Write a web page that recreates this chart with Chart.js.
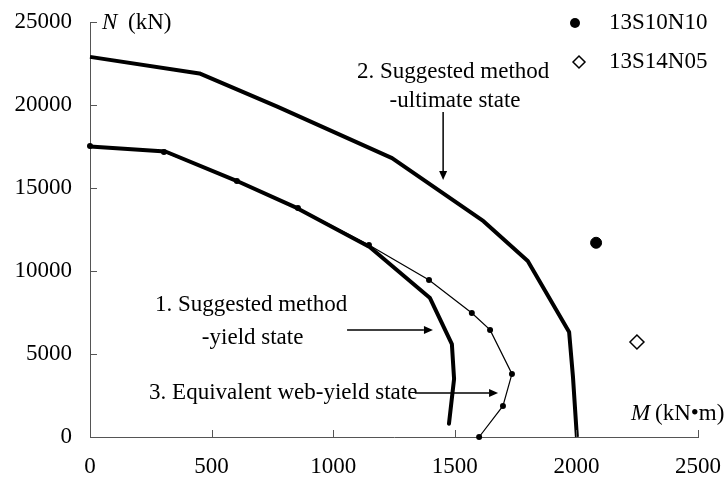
<!DOCTYPE html>
<html>
<head>
<meta charset="utf-8">
<script src="https://cdn.jsdelivr.net/npm/chart.js@4/dist/chart.umd.min.js"></script>
<style>
  html, body { margin: 0; padding: 0; background: #fff; }
  #wrap { width: 724px; height: 488px; }
</style>
</head>
<body>
<div id="wrap"><canvas id="c" width="724" height="488"></canvas></div>
<script>
// Axis tick values
const momentTicks = [0, 500, 1000, 1500, 2000, 2500];
const axialTicks = [0, 5000, 10000, 15000, 20000, 25000];

// 1. Suggested method - yield state
const yieldM = [0, 310, 600, 850, 1150, 1398, 1488, 1497, 1476];
const yieldN = [17500, 17200, 15450, 13800, 11450, 8370, 5600, 3500, 800];

// 2. Suggested method - ultimate state
const ultM = [0, 450, 770, 1242, 1618, 1800, 1970, 1986, 2002];
const ultN = [22900, 21900, 19900, 16800, 13000, 10600, 6330, 3600, 0];

// 3. Equivalent web-yield state
const webM = [0, 304, 604, 855, 1147, 1394, 1570, 1645, 1735, 1698, 1600];
const webN = [17530, 17170, 15420, 13800, 11570, 9460, 7470, 6450, 3800, 1870, 0];

// Test specimens
const specimenNames = ['13S10N10', '13S14N05'];
const specimenM = [2081, 2249];
const specimenN = [11700, 5720];

const FONT = '"Liberation Serif", "Times New Roman", serif';
const FS = 23;
const AXIS = '#555';

const pts = (xs, ys) => xs.map((x, i) => ({ x: x, y: ys[i] }));

// Labels with arrows, anchored in data units (M, N)
const notes = [
  { text: '2. Suggested method', m: 1098, n: 21990 },
  { text: '-ultimate state', m: 1232, n: 20240 },
  { text: '1. Suggested method', m: 267, n: 7950 },
  { text: '-yield state', m: 460, n: 5960 },
  { text: '3. Equivalent web-yield state', m: 243, n: 2650 }
];
const arrows = [
  { m0: 1452, n0: 19580, m1: 1452, n1: 15480 },
  { m0: 1057, n0: 6450, m1: 1410, n1: 6450 },
  { m0: 1336, n0: 2650, m1: 1678, n1: 2650 }
];

function arrow(ctx, x0, y0, x1, y1) {
  const a = Math.atan2(y1 - y0, x1 - x0);
  const L = 9, W = 4;
  const bx = x1 - L * Math.cos(a), by = y1 - L * Math.sin(a);
  ctx.beginPath();
  ctx.moveTo(x0, y0);
  ctx.lineTo(bx, by);
  ctx.stroke();
  ctx.beginPath();
  ctx.moveTo(x1, y1);
  ctx.lineTo(bx + W * Math.sin(a), by - W * Math.cos(a));
  ctx.lineTo(bx - W * Math.sin(a), by + W * Math.cos(a));
  ctx.closePath();
  ctx.fill();
}

// keep the plot frame fixed regardless of tick label overhang
function fixBox(size, key) {
  return s => {
    s[key] = size;
    s.paddingLeft = 0; s.paddingRight = 0; s.paddingTop = 0; s.paddingBottom = 0;
  };
}

const decorations = {
  id: 'decorations',
  afterDraw(chart) {
    const ctx = chart.ctx;
    const xs = chart.scales.x, ys = chart.scales.y;
    const area = chart.chartArea;
    ctx.save();

    // inward tick marks
    ctx.strokeStyle = AXIS;
    ctx.lineWidth = 1;
    ctx.beginPath();
    axialTicks.forEach(v => {
      const p = Math.round(ys.getPixelForValue(v)) + 0.5;
      ctx.moveTo(area.left, p);
      ctx.lineTo(area.left + 7, p);
    });
    momentTicks.forEach(v => {
      const p = Math.round(xs.getPixelForValue(v)) + 0.5;
      ctx.moveTo(p, area.bottom);
      ctx.lineTo(p, area.bottom - 7);
    });
    ctx.stroke();

    // notes and arrows
    ctx.fillStyle = '#000';
    ctx.strokeStyle = '#000';
    ctx.lineWidth = 1.5;
    ctx.font = FS + 'px ' + FONT;
    ctx.textBaseline = 'middle';
    ctx.textAlign = 'left';
    notes.forEach(t => {
      ctx.fillText(t.text, xs.getPixelForValue(t.m), ys.getPixelForValue(t.n));
    });
    arrows.forEach(a => {
      arrow(ctx, xs.getPixelForValue(a.m0), ys.getPixelForValue(a.n0),
                 xs.getPixelForValue(a.m1), ys.getPixelForValue(a.n1));
    });

    // axis titles
    const italic = 'italic ' + FS + 'px ' + FONT;
    const upright = FS + 'px ' + FONT;
    let ty = area.top + 1;
    ctx.font = italic;
    ctx.fillText('N', area.left + 12, ty);
    ctx.font = upright;
    ctx.fillText('(kN)', area.left + 38, ty);
    let tx = area.right - 67;
    ty = area.bottom - 23;
    ctx.font = italic;
    ctx.fillText('M', tx, ty);
    ctx.font = upright;
    ctx.fillText('(kN\u2022m)', tx + 24, ty);

    // legend
    const lx = area.right - 123;
    const rows = [area.top + 1, area.top + 40];
    ctx.font = upright;
    ctx.fillText(specimenNames[0], lx + 34, rows[0]);
    ctx.fillText(specimenNames[1], lx + 34, rows[1]);
    ctx.beginPath();
    ctx.arc(lx, rows[0], 5, 0, Math.PI * 2);
    ctx.fill();
    ctx.beginPath();
    const r = 6, cx = lx + 4, cy = rows[1];
    ctx.moveTo(cx - r, cy); ctx.lineTo(cx, cy - r); ctx.lineTo(cx + r, cy); ctx.lineTo(cx, cy + r);
    ctx.closePath();
    ctx.fillStyle = '#fff';
    ctx.fill();
    ctx.lineWidth = 1.5;
    ctx.stroke();

    ctx.restore();
  }
};

new Chart(document.getElementById('c'), {
  type: 'scatter',
  data: {
    datasets: [
      {
        label: '3. Equivalent web-yield state',
        data: pts(webM, webN),
        showLine: true,
        borderColor: '#000',
        borderWidth: 1.2,
        backgroundColor: '#000',
        pointRadius: 3,
        pointBorderWidth: 0,
        clip: false
      },
      {
        label: '1. Suggested method - yield state',
        data: pts(yieldM, yieldN),
        showLine: true,
        borderColor: '#000',
        borderWidth: 4,
        borderJoinStyle: 'round',
        borderCapStyle: 'round',
        pointRadius: 0,
        clip: false
      },
      {
        label: '2. Suggested method - ultimate state',
        data: pts(ultM, ultN),
        showLine: true,
        borderColor: '#000',
        borderWidth: 4,
        borderJoinStyle: 'round',
        pointRadius: 0,
        clip: false
      },
      {
        label: specimenNames[0],
        data: [{ x: specimenM[0], y: specimenN[0] }],
        pointStyle: 'circle',
        pointRadius: 5.5,
        backgroundColor: '#000',
        borderColor: '#000',
        clip: false
      },
      {
        label: specimenNames[1],
        data: [{ x: specimenM[1], y: specimenN[1] }],
        pointStyle: 'rectRot',
        pointRadius: 7,
        backgroundColor: '#fff',
        borderColor: '#000',
        borderWidth: 1.5,
        clip: false
      }
    ]
  },
  options: {
    responsive: false,
    animation: false,
    devicePixelRatio: 1,
    layout: { padding: { top: 22, right: 26, left: 0, bottom: 0 } },
    plugins: { legend: { display: false }, tooltip: { enabled: false } },
    scales: {
      x: {
        type: 'linear',
        min: 0,
        max: 2500,
        afterBuildTicks: s => { s.ticks = momentTicks.map(v => ({ value: v })); },
        afterFit: fixBox(51, 'height'),
        grid: { display: false, drawTicks: false },
        border: { display: true, color: AXIS, width: 1 },
        ticks: {
          padding: 16,
          color: '#000',
          maxRotation: 0,
          autoSkip: false,
          font: { family: FONT, size: FS },
          callback: v => String(v)
        }
      },
      y: {
        type: 'linear',
        min: 0,
        max: 25000,
        afterBuildTicks: s => { s.ticks = axialTicks.map(v => ({ value: v })); },
        afterFit: fixBox(90, 'width'),
        grid: { display: false, drawTicks: false },
        border: { display: true, color: AXIS, width: 1 },
        ticks: {
          padding: 18,
          color: '#000',
          autoSkip: false,
          font: { family: FONT, size: FS },
          callback: v => String(v)
        }
      }
    }
  },
  plugins: [decorations]
});
</script>
</body>
</html>
